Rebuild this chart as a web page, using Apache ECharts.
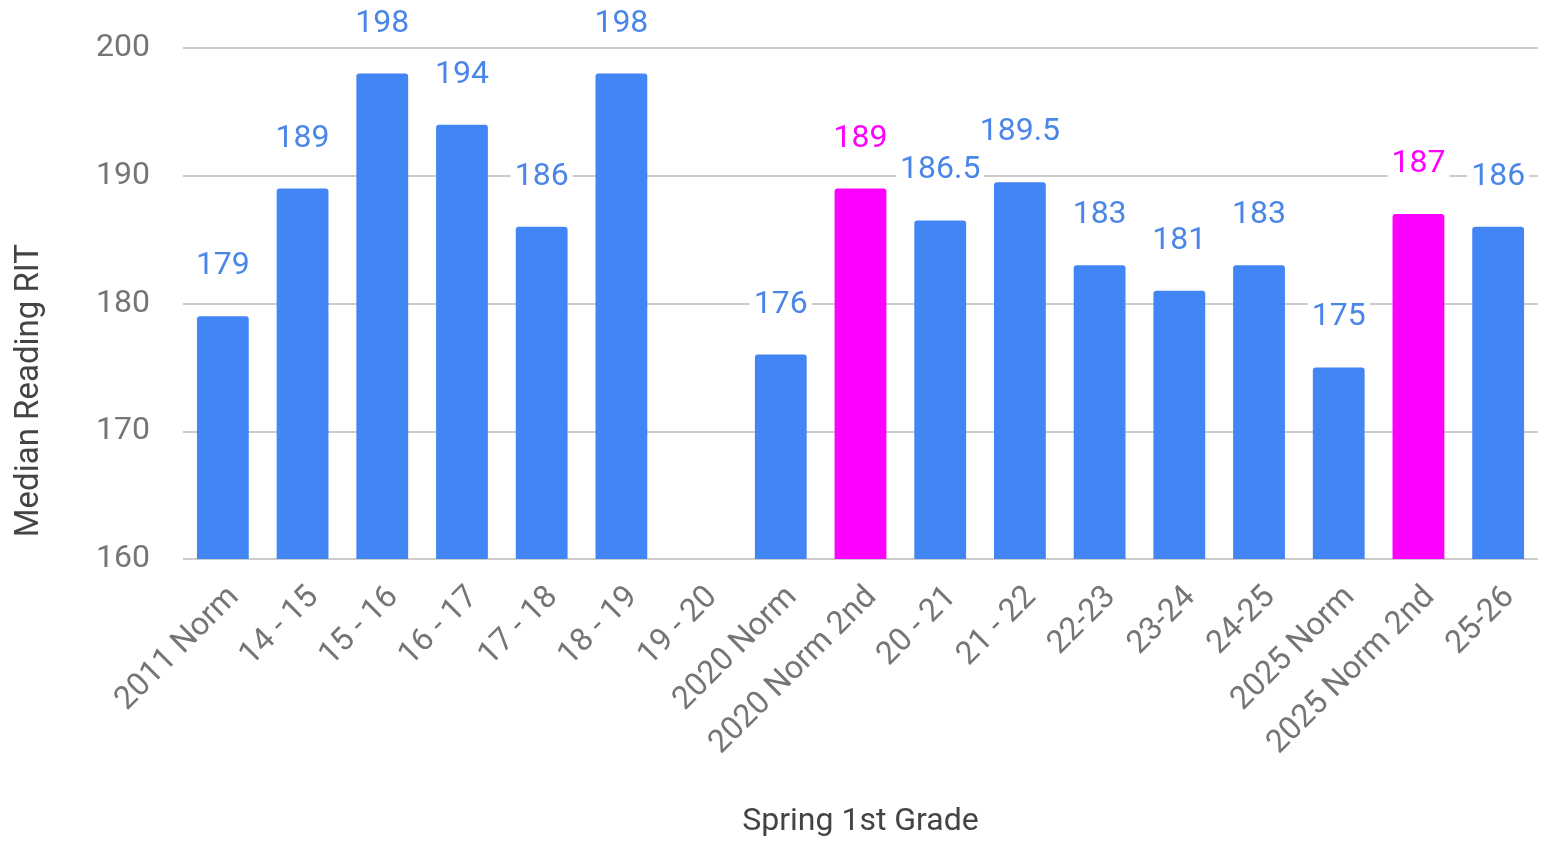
<!DOCTYPE html>
<html>
<head>
<meta charset="utf-8">
<script src="https://cdn.jsdelivr.net/npm/echarts@6/dist/echarts.min.js"></script>
<style>
  html, body { margin: 0; padding: 0; background: #fff; }
  #chart { width: 1546px; height: 843px; }
</style>
</head>
<body>
<div id="chart"></div>
<script>
const categories = [
  "2011 Norm", "14 - 15", "15 - 16", "16 - 17", "17 - 18", "18 - 19", "19 - 20",
  "2020 Norm", "2020 Norm 2nd", "20 - 21", "21 - 22", "22-23", "23-24", "24-25",
  "2025 Norm", "2025 Norm 2nd", "25-26"
];
const values = [179, 189, 198, 194, 186, 198, null, 176, 189, 186.5, 189.5, 183, 181, 183, 175, 187, 186];
// categories drawn in magenta (norm comparison bars)
const highlighted = ["2020 Norm 2nd", "2025 Norm 2nd"];
const yTicks = [160, 170, 180, 190, 200];

const BLUE = "#4285f4";
const PINK = "#ff00ff";

const chart = echarts.init(document.getElementById("chart"));

const data = values.map((v, i) => {
  const hot = highlighted.includes(categories[i]);
  return {
    value: v,
    itemStyle: { color: hot ? PINK : BLUE },
    label: { color: hot ? PINK : "#4a86e8" }
  };
});

chart.setOption({
  animation: false,
  textStyle: { fontFamily: "Roboto" },
  grid: { left: 183, right: 8, top: 48, bottom: 278 },
  graphic: [
    {
      type: "text",
      left: 13,
      top: 244,
      rotation: Math.PI / 2,
      style: {
        text: "Median Reading RIT",
        fontSize: 33,
        fontFamily: "Roboto",
        fill: "#444"
      }
    }
  ],
  xAxis: {
    type: "category",
    data: categories,
    name: "Spring 1st Grade",
    nameLocation: "middle",
    nameGap: 247,
    nameTextStyle: { fontSize: 32, color: "#444" },
    axisLine: { show: false },
    axisTick: { show: false },
    axisLabel: {
      interval: 0,
      rotate: 45,
      margin: 22,
      verticalAlign: "top",
      fontSize: 32,
      color: "#757575"
    }
  },
  yAxis: {
    type: "value",
    min: yTicks[0],
    max: yTicks[yTicks.length - 1],
    interval: 10,
    axisLine: { show: false },
    axisTick: { show: false },
    axisLabel: { margin: 33, fontSize: 32, color: "#757575" },
    splitLine: { lineStyle: { color: "#cccccc", width: 2 } }
  },
  series: [
    {
      type: "bar",
      data: data,
      barWidth: "65%",
      itemStyle: { borderRadius: [3, 3, 0, 0] },
      label: {
        show: true,
        position: "top",
        distance: 34,
        fontSize: 32,
        backgroundColor: "#fff",
        padding: [0, 4]
      }
    }
  ]
});
</script>
</body>
</html>
